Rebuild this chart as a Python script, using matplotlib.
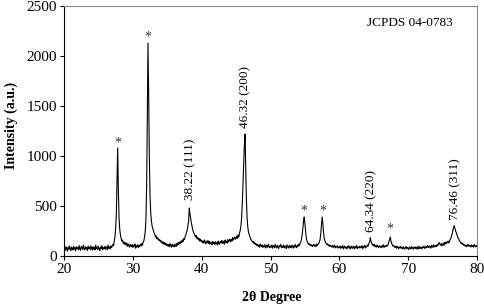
import numpy as np
import matplotlib
matplotlib.use("Agg")
import matplotlib.pyplot as plt

plt.rcParams['font.family'] = ['Liberation Serif', 'DejaVu Serif']

# 2-theta grid (0.1 degree steps, 20..80) and intensities
two_theta_start = 20.0
two_theta_step = 0.1
intensity = [
    62, 85, 58, 94, 70, 48, 88, 66, 101, 72,          # 20
    55, 90, 78, 60, 97, 68, 83, 52, 92, 74,           # 21
    86, 63, 105, 71, 58, 95, 80, 66, 110, 75,         # 22
    60, 92, 70, 84, 56, 99, 73, 88, 64, 102,          # 23
    78, 58, 94, 69, 87, 61, 108, 76, 90, 65,          # 24
    96, 72, 55, 89, 75, 104, 63, 85, 70, 93,          # 25
    68, 97, 80, 62, 110, 77, 91, 70, 102, 84,         # 26
    95, 118, 104, 150, 190, 270, 420, 760, 1080, 640, # 27
    380, 265, 210, 175, 150, 160, 128, 140, 118, 135, # 28
    110, 128, 96, 122, 105, 88, 118, 100, 92, 115,    # 29
    85, 108, 96, 120, 78, 102, 90, 112, 84, 106,      # 30
    95, 118, 100, 125, 108, 140, 150, 190, 245, 360,  # 31
    680, 1350, 2130, 1600, 980, 600, 430, 350, 300, 275,  # 32
    250, 228, 215, 190, 200, 172, 185, 160, 168, 150, # 33
    158, 138, 150, 125, 142, 118, 135, 110, 128, 105, # 34
    120, 98, 115, 92, 125, 104, 88, 118, 96, 110,     # 35
    90, 120, 102, 95, 128, 108, 135, 115, 140, 125,   # 36
    150, 132, 160, 145, 175, 165, 195, 210, 240, 260, # 37
    300, 350, 480, 420, 380, 330, 300, 260, 240, 225, # 38
    210, 190, 205, 175, 188, 162, 178, 150, 168, 145, # 39
    158, 135, 150, 128, 160, 140, 122, 148, 130, 155, # 40
    125, 148, 118, 140, 130, 112, 145, 125, 138, 115, # 41
    142, 120, 135, 110, 150, 128, 118, 145, 132, 155, # 42
    125, 150, 138, 118, 160, 135, 148, 128, 165, 140, # 43
    155, 170, 142, 165, 150, 185, 160, 175, 190, 168, # 44
    180, 200, 175, 210, 190, 230, 255, 300, 380, 520, # 45
    720, 950, 1100, 1220, 900, 560, 380, 290, 240, 215,  # 46
    195, 175, 160, 150, 138, 145, 125, 132, 115, 122, # 47
    105, 118, 96, 110, 88, 120, 100, 92, 112, 85,     # 48
    102, 90, 115, 80, 98, 108, 86, 118, 94, 82,       # 49
    100, 88, 112, 78, 96, 105, 84, 115, 92, 80,       # 50
    108, 90, 76, 104, 95, 118, 82, 98, 86, 110,       # 51
    80, 102, 92, 75, 112, 88, 98, 78, 106, 90,        # 52
    84, 110, 95, 78, 104, 88, 116, 92, 82, 108,       # 53
    96, 120, 105, 125, 140, 170, 210, 280, 350, 390,  # 54
    320, 240, 180, 150, 135, 118, 125, 108, 115, 100, # 55
    112, 95, 105, 118, 98, 110, 92, 120, 105, 115,    # 56
    125, 140, 165, 220, 310, 390, 330, 240, 180, 150, # 57
    135, 128, 115, 120, 102, 112, 95, 108, 98, 90,    # 58
    105, 85, 98, 110, 80, 95, 88, 102, 78, 92,        # 59
    85, 100, 75, 94, 82, 105, 70, 90, 98, 78,         # 60
    92, 72, 88, 104, 80, 95, 68, 86, 100, 76,         # 61
    88, 98, 70, 92, 82, 106, 75, 90, 84, 96,          # 62
    78, 95, 86, 102, 72, 94, 88, 108, 80, 98,         # 63
    92, 110, 100, 125, 140, 185, 150, 128, 110, 118,  # 64
    100, 115, 92, 105, 88, 110, 95, 85, 102, 90,      # 65
    98, 82, 105, 90, 112, 86, 100, 94, 108, 96,       # 66
    105, 118, 140, 165, 190, 150, 125, 112, 98, 105,  # 67
    92, 85, 100, 78, 95, 88, 72, 90, 82, 96,          # 68
    75, 88, 70, 92, 80, 68, 85, 94, 72, 86,           # 69
    78, 66, 90, 82, 70, 95, 76, 88, 68, 84,           # 70
    92, 74, 86, 68, 98, 80, 72, 94, 78, 88,           # 71
    70, 92, 84, 100, 76, 88, 96, 82, 104, 90,         # 72
    85, 100, 92, 78, 108, 95, 86, 112, 98, 90,        # 73
    105, 95, 115, 102, 122, 135, 118, 108, 125, 100,  # 74
    115, 128, 105, 135, 120, 142, 125, 138, 150, 130, # 75
    145, 165, 175, 200, 225, 260, 285, 305, 275, 250, # 76
    230, 210, 190, 175, 160, 148, 138, 125, 132, 115, # 77
    120, 105, 112, 98, 110, 92, 104, 115, 96, 108,    # 78
    100, 90, 112, 95, 105, 88, 116, 98, 92, 108,      # 79
    95,                                               # 80
]
two_theta = two_theta_start + two_theta_step * np.arange(len(intensity))

# Peak annotations
star_x = [27.8, 32.2, 54.9, 57.6, 67.4]
star_y = [1130, 2190, 450, 450, 270]
label_text = ["38.22 (111)", "46.32 (200)", "64.34 (220)", "76.46 (311)"]
label_x = [38.3, 46.4, 64.6, 76.8]
label_y = [560, 1280, 240, 360]

xticks = [20, 30, 40, 50, 60, 70, 80]
yticks = [0, 500, 1000, 1500, 2000, 2500]

W, H = 484, 306
fig = plt.figure(figsize=(W / 100, H / 100), dpi=100)
ax = fig.add_axes([64 / W, 50 / H, 413 / W, 250 / H])

ax.plot(two_theta, intensity, color='black', linewidth=0.8)

for sx, sy in zip(star_x, star_y):
    ax.text(sx, sy, "*", ha='center', va='center', fontsize=10, color='#333333')
for t, lx, ly in zip(label_text, label_x, label_y):
    ax.text(lx, ly, t, rotation=90, ha='center', va='bottom', fontsize=9.5)

ax.text(70.2, 2330, "JCPDS 04-0783", ha='center', va='center', fontsize=9.5)

ax.set_xlim(20, 80)
ax.set_ylim(0, 2500)
ax.set_xticks(xticks)
ax.set_yticks(yticks)
ax.tick_params(axis='both', direction='out', length=3, width=0.8, labelsize=11, pad=2)
for s in ['top', 'right']:
    ax.spines[s].set_color('#8a8a8a')
for s in ['left', 'bottom']:
    ax.spines[s].set_color('black')

fig.text(272 / W, 1 - 297 / H, "2θ Degree", ha='center', va='center',
         fontsize=10, fontweight='bold')
fig.text(11 / W, 1 - 125 / H, "Intensity (a.u.)", ha='center', va='center',
         rotation=90, fontsize=10, fontweight='bold')

fig.savefig("out.png", dpi=100)
